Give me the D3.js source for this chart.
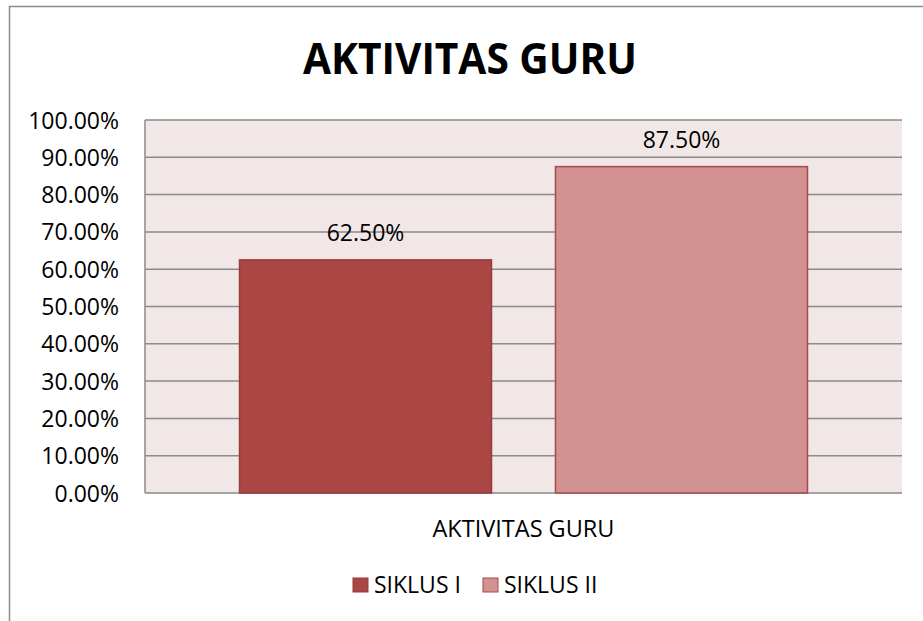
<!DOCTYPE html>
<html>
<head>
<meta charset="utf-8">
<script src="https://cdn.jsdelivr.net/npm/d3@7"></script>
<style>
  body { margin: 0; background: #fff; }
  text { font-family: "Open Sans", sans-serif; fill: #000; }
</style>
</head>
<body>
<div id="chart"></div>
<script>
// data
const categories = ['AKTIVITAS GURU'];
const seriesNames = ['SIKLUS I', 'SIKLUS II'];
const seriesValues = [0.625, 0.875];
const yTicks = [0, 0.1, 0.2, 0.3, 0.4, 0.5, 0.6, 0.7, 0.8, 0.9, 1.0];
const colors = ['#AA4644', '#D39292'];
const strokes = ['#963D3B', '#A84848'];

const width = 923,
  height = 621;
const margin = { top: 120, right: 21, bottom: 128, left: 145 };

const svg = d3.select('#chart').append('svg')
  .attr('width', width)
  .attr('height', height);

// outer chart frame (only left and top edges are inside the window)
svg.append('path')
  .attr('d', `M9.5,${height + 5} V6.5 H${width + 5}`)
  .attr('fill', 'none')
  .attr('stroke', '#8c8c8c')
  .attr('stroke-width', 1.5);

svg.append('text')
  .attr('x', 470)
  .attr('y', 74)
  .attr('text-anchor', 'middle')
  .attr('textLength', 334)
  .attr('lengthAdjust', 'spacingAndGlyphs')
  .style('font-size', '43px')
  .style('font-weight', 'bold')
  .text('AKTIVITAS GURU');

const x0 = d3.scaleBand()
  .domain(categories)
  .range([margin.left, width - margin.right])
  .paddingInner(0)
  .paddingOuter(0.1664);

const x1 = d3.scaleBand()
  .domain(seriesNames)
  .range([0, x0.bandwidth()])
  .paddingInner(0.2025)
  .paddingOuter(0);

const y = d3.scaleLinear()
  .domain([0, 1])
  .range([height - margin.bottom, margin.top]);

// plot area
svg.append('rect')
  .attr('x', margin.left)
  .attr('y', margin.top)
  .attr('width', width - margin.left - margin.right)
  .attr('height', y(0) - y(1))
  .attr('fill', '#F2E7E7');

svg.append('g')
  .selectAll('line')
  .data(yTicks)
  .join('line')
  .attr('x1', margin.left)
  .attr('x2', width - margin.right)
  .attr('y1', d => y(d))
  .attr('y2', d => y(d))
  .attr('stroke', '#8a8a8a')
  .attr('stroke-width', 1.5);

svg.append('line')
  .attr('x1', margin.left)
  .attr('x2', margin.left)
  .attr('y1', y(0))
  .attr('y2', y(1))
  .attr('stroke', '#8a8a8a')
  .attr('stroke-width', 1.5);

const fmt = d3.format('.2%');

// y axis labels
const yAxis = svg.append('g')
  .attr('transform', `translate(${margin.left},0)`)
  .call(d3.axisLeft(y).tickValues(yTicks).tickFormat(fmt).tickSize(0).tickPadding(26));
yAxis.select('.domain').remove();
yAxis.selectAll('text')
  .style('font-family', '"Open Sans", sans-serif')
  .style('font-size', '23px')
  .attr('dy', '0.35em')
  .attr('fill', '#000');

// bars
const bars = svg.append('g').selectAll('g')
  .data(categories)
  .join('g')
  .attr('transform', d => `translate(${x0(d)},0)`);

bars.selectAll('rect')
  .data(seriesNames.map((s, i) => ({ key: s, value: seriesValues[i], i })))
  .join('rect')
  .attr('x', d => x1(d.key))
  .attr('y', d => y(d.value))
  .attr('width', x1.bandwidth())
  .attr('height', d => y(0) - y(d.value))
  .attr('fill', d => colors[d.i])
  .attr('stroke', d => strokes[d.i])
  .attr('stroke-width', 1.5);

bars.selectAll('text')
  .data(seriesNames.map((s, i) => ({ key: s, value: seriesValues[i] })))
  .join('text')
  .attr('x', d => x1(d.key) + x1.bandwidth() / 2)
  .attr('y', d => y(d.value) - 19)
  .attr('text-anchor', 'middle')
  .style('font-size', '23px')
  .text(d => fmt(d.value));

// category label
svg.append('text')
  .attr('x', x0(categories[0]) + x0.bandwidth() / 2)
  .attr('y', 537)
  .attr('text-anchor', 'middle')
  .style('font-size', '23.5px')
  .text(categories[0]);

// legend
const legendX = [353, 483];
const legend = svg.append('g').selectAll('g')
  .data(seriesNames)
  .join('g')
  .attr('transform', (d, i) => `translate(${legendX[i]},578)`);

legend.append('rect')
  .attr('width', 15)
  .attr('height', 14)
  .attr('fill', (d, i) => colors[i])
  .attr('stroke', (d, i) => strokes[i])
  .attr('stroke-width', 1);

legend.append('text')
  .attr('x', 21)
  .attr('y', 15)
  .style('font-size', '23px')
  .text(d => d);
</script>
</body>
</html>
